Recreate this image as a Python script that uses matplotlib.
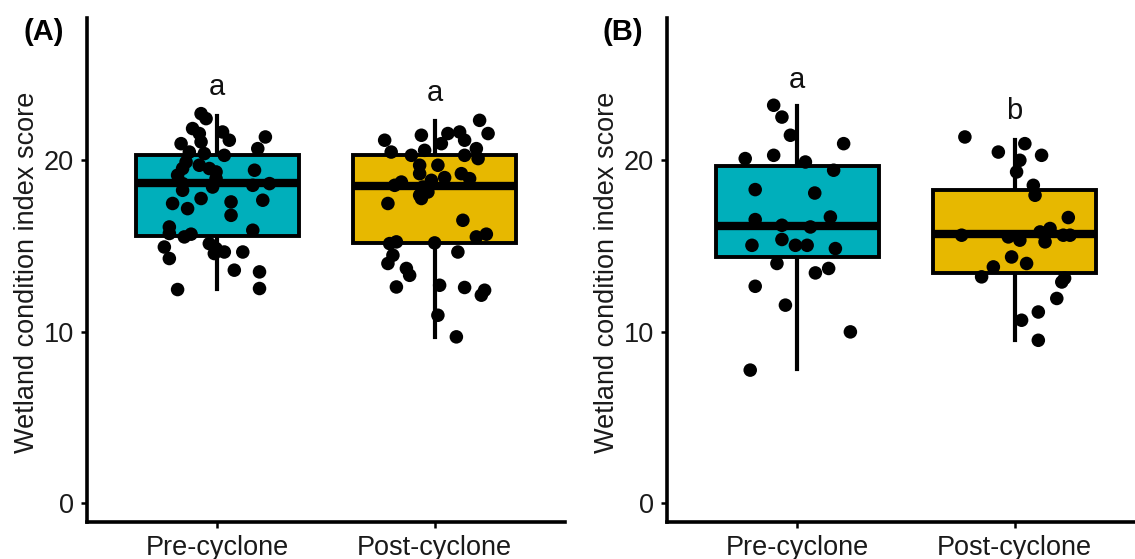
import matplotlib
matplotlib.use('Agg')
import matplotlib.pyplot as plt

plt.rcParams['font.family'] = ['Liberation Sans', 'DejaVu Sans']

groups = ['Pre-cyclone', 'Post-cyclone']
colors = ['#00AFBB', '#E7B800']
panel_tags = ['(A)', '(B)']
sig_letters = [['a', 'a'], ['a', 'b']]
sig_heights = [[23.8, 23.45], [24.2, 22.4]]

# box statistics: q1, median, q3, lower whisker, upper whisker
a_stats = [[15.6, 18.65, 20.3, 12.5, 22.6],
           [15.15, 18.5, 20.3, 9.7, 22.3]]
b_stats = [[14.35, 16.15, 19.65, 7.8, 23.15],
           [13.4, 15.7, 18.25, 9.5, 21.2]]

# (A) points
a_pre_vals = [22.72, 22.43, 21.85, 21.56, 21.65, 21.17, 21.36, 20.97, 21.07, 20.68,
              20.48, 20.39, 20.29, 19.90, 19.52, 19.71, 19.52, 19.32, 19.42, 19.13,
              18.93, 18.64, 18.44, 18.54, 18.64, 18.25, 17.48, 17.18, 17.77, 17.57,
              16.79, 17.67, 16.11, 15.73, 15.92, 15.53, 15.69, 14.94, 14.27, 15.14,
              14.56, 14.65, 14.65, 13.59, 13.49, 12.46, 12.52, 14.85]
a_pre_jit = [-0.075, -0.052, -0.114, -0.083, 0.024, 0.055, 0.221, -0.167, -0.075, 0.186,
             -0.129, -0.060, 0.032, -0.144, -0.160, -0.083, -0.037, -0.006, 0.171, -0.183,
             -0.006, -0.160, -0.022, 0.163, 0.240, -0.160, -0.206, -0.137, -0.075, 0.063,
             0.063, 0.209, -0.221, -0.221, 0.163, -0.152, -0.121, -0.244, -0.221, -0.037,
             -0.014, 0.032, 0.117, 0.078, 0.194, -0.183, 0.194, -0.006]
a_post_vals = [22.33, 21.56, 21.17, 21.46, 21.56, 21.65, 21.17, 20.97, 20.48, 20.29,
               20.58, 20.29, 20.68, 20.10, 19.71, 19.71, 19.22, 19.22, 18.93, 18.73,
               18.54, 18.83, 18.99, 18.44, 17.96, 18.15, 17.77, 17.48, 16.50, 15.53,
               15.69, 15.14, 15.24, 15.18, 14.65, 14.46, 13.98, 13.69, 13.29, 12.61,
               12.71, 12.58, 12.13, 12.42, 10.96, 9.70]
a_post_jit = [0.207, 0.246, -0.230, -0.061, 0.061, 0.115, 0.138, 0.031, -0.200, -0.107,
              -0.046, 0.138, 0.192, 0.200, -0.069, 0.015, -0.069, 0.123, 0.161, -0.153,
              -0.184, -0.015, 0.046, -0.054, -0.069, -0.031, -0.061, -0.215, 0.130, 0.192,
              0.238, -0.207, -0.176, 0.000, 0.107, -0.192, -0.215, -0.130, -0.115, -0.176,
              0.023, 0.138, 0.215, 0.230, 0.015, 0.100]

# (B) points
b_pre_vals = [23.21, 22.52, 21.46, 20.97, 20.10, 20.29, 19.90, 19.42, 18.29, 18.09,
              16.54, 16.69, 16.21, 16.11, 15.04, 15.38, 15.04, 15.04, 14.85, 13.98,
              13.43, 13.69, 12.65, 11.55, 9.99, 7.76]
b_pre_jit = [-0.109, -0.071, -0.032, 0.213, -0.240, -0.109, 0.037, 0.167, -0.194, 0.080,
             -0.194, 0.152, -0.071, 0.060, -0.209, -0.071, -0.009, 0.045, 0.175, -0.094,
             0.083, 0.144, -0.194, -0.055, 0.244, -0.217]
b_post_vals = [21.36, 20.48, 20.97, 20.29, 20.00, 19.32, 18.54, 17.96, 16.66, 15.63,
               15.53, 15.34, 15.82, 16.02, 15.24, 15.63, 15.63, 14.36, 13.98, 13.78,
               13.20, 12.90, 13.12, 11.94, 11.15, 10.67, 9.50]
b_post_jit = [-0.229, -0.075, 0.047, 0.124, 0.024, 0.009, 0.086, 0.094, 0.247, -0.244,
              -0.029, 0.024, 0.117, 0.163, 0.140, 0.224, 0.255, -0.014, 0.055, -0.098,
              -0.152, 0.217, 0.230, 0.194, 0.109, 0.032, 0.109]

panels = [
    (a_stats, [(a_pre_vals, a_pre_jit), (a_post_vals, a_post_jit)]),
    (b_stats, [(b_pre_vals, b_pre_jit), (b_post_vals, b_post_jit)]),
]

fig = plt.figure(figsize=(11.35, 5.59), dpi=100)
ax_lefts = [87 / 1135, 667 / 1135]
ax_w = 478 / 1135
ax_b = 37 / 559
ax_h = 504 / 559
tag_x = [44 / 1135, 623 / 1135]

for p, (stats, pts) in enumerate(panels):
    ax = fig.add_axes([ax_lefts[p], ax_b, ax_w, ax_h])
    bxp_stats = []
    for i, s in enumerate(stats):
        bxp_stats.append({'q1': s[0], 'med': s[1], 'q3': s[2],
                          'whislo': s[3], 'whishi': s[4], 'fliers': [],
                          'label': groups[i]})
    bp = ax.bxp(bxp_stats, positions=[1, 2], widths=0.75, patch_artist=True,
                showcaps=False, showfliers=False,
                boxprops=dict(linewidth=2.8, edgecolor='black'),
                whiskerprops=dict(linewidth=3.0, color='black'),
                medianprops=dict(linewidth=6, color='black', solid_capstyle='butt'))
    for patch, c in zip(bp['boxes'], colors):
        patch.set_facecolor(c)
        patch.set_zorder(2)
    for w in bp['whiskers']:
        w.set_zorder(1)
    for m in bp['medians']:
        m.set_zorder(3)

    for i, (vals, jit) in enumerate(pts):
        xs = [i + 1 + j for j in jit]
        ax.scatter(xs, vals, s=95, color='black', edgecolors='none', zorder=4)
        ax.text(i + 1, sig_heights[p][i], sig_letters[p][i], ha='center',
                va='baseline', fontsize=21, color='#111111')

    ax.set_xlim(0.4, 2.6)
    ax.set_ylim(-1.1, 28.3)
    ax.set_yticks([0, 10, 20])
    ax.set_xticks([1, 2])
    ax.set_xticklabels(groups)
    for side in ['top', 'right']:
        ax.spines[side].set_visible(False)
    for side in ['left', 'bottom']:
        ax.spines[side].set_linewidth(2.6)
        ax.spines[side].set_capstyle('projecting')
    ax.tick_params(axis='both', width=1.8, length=4.5, labelsize=19.5,
                   labelcolor='#1a1a1a', pad=5)
    ax.set_facecolor('none')

    fig.text(27 / 1135 + ax_lefts[p] - ax_lefts[0], 1 - 272 / 559,
             'Wetland condition index score', rotation=90, ha='center',
             va='center', fontsize=19.5, color='#1a1a1a')
    fig.text(tag_x[p], 1 - 32 / 559, panel_tags[p], ha='center', va='center',
             fontsize=21, fontweight='bold')

fig.savefig('out.png', dpi=100)
